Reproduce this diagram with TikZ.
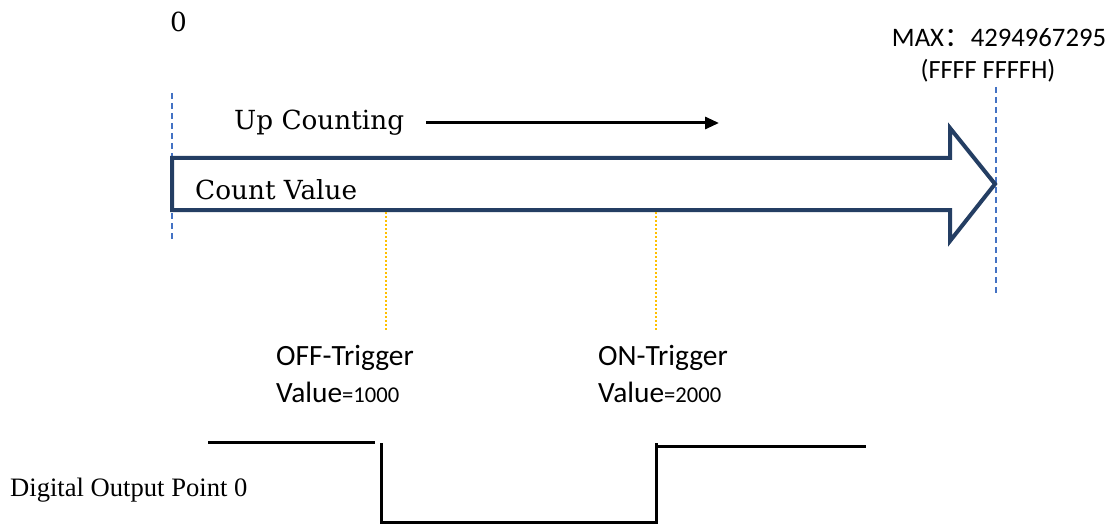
\documentclass[tikz,border=0pt]{standalone}
\usepackage{fontspec}
\newfontfamily\calfont{Carlito}
\newfontfamily\timesfont{Liberation Serif}
\newfontfamily\slabfont{DejaVu Serif}
\newfontfamily\cjk{Noto Sans CJK SC}
\usetikzlibrary{arrows.meta}
\definecolor{arrowblue}{RGB}{36,62,99}
\definecolor{markblue}{RGB}{68,114,196}
\definecolor{trigorange}{RGB}{255,192,0}

\begin{document}
\begin{tikzpicture}[x=1pt,y=-1pt,
  bluedash/.style={draw=markblue,line width=1.5pt,dash pattern=on 6pt off 4pt},
  orangedot/.style={draw=trigorange,line width=2pt,dash pattern=on 2pt off 2pt},
  signal/.style={draw=black,line width=3pt},
  big/.style={inner sep=0pt,anchor=west,font=\slabfont\fontsize{26.3}{30}\selectfont},
  lab/.style={inner sep=0pt,anchor=west,font=\calfont\fontsize{29.4}{33}\selectfont}]
\useasboundingbox (0,0) rectangle (1117,524);

% start and end of the count range
\coordinate (zerotop) at (172,93);
\coordinate (zerobot) at (172,240);
\coordinate (maxtop) at (996,87);
\coordinate (maxbot) at (996,293);
\draw[bluedash] (zerotop) -- (zerobot);
\draw[bluedash] (maxtop) -- (maxbot);
\node[big] (zero) at (170,22) {0};
\node[lab,anchor=center,font=\calfont\fontsize{26.7}{30}\selectfont] (maxval) at (999,38) {MAX{\cjk：}4294967295};
\node[lab,anchor=center,font=\calfont\fontsize{26.3}{30}\selectfont] (maxhex) at (988,71) {(FFFF FFFFH)};

% count value block arrow
\draw[draw=arrowblue,line width=4pt,line join=miter,fill=white]
  (172,158) -- (950,158) -- (950,128) -- (995,184) -- (950,241) -- (950,210) -- (172,210) -- cycle;
\node[big] (count) at (195,190) {Count Value};
\node[big] (upc) at (234,123) {Up Counting};
\coordinate (upend) at (719,123);
\draw[line width=3pt,-{Triangle[length=14pt,width=12pt]}] ([xshift=22pt]upc.east) -- (upend);

% trigger points
\coordinate (offtop) at (386,212);
\coordinate (offbot) at (386,330);
\coordinate (ontop) at (656,212);
\coordinate (onbot) at (656,330);
\draw[orangedot] (offtop) -- (offbot);
\draw[orangedot] (ontop) -- (onbot);
\node[lab] (offtrig) at (276,358) {OFF-Trigger};
\node[lab] (offval) at (276,392) {Value{\fontsize{22.6}{26}\selectfont=1000}};
\node[lab] (ontrig) at (598,358) {ON-Trigger};
\node[lab] (onval) at (598,392) {Value{\fontsize{22.6}{26}\selectfont=2000}};

% digital output
\node[inner sep=0pt,anchor=west,font=\timesfont\fontsize{26.6}{30}\selectfont] (dout) at (10,490) {Digital Output Point 0};
\draw[signal] (208,442) -- (375,442);
\draw[signal] (381,443) -- (381,522) -- (656,522) -- (656,443);
\draw[signal] (656,446) -- (866,446);
\end{tikzpicture}
\end{document}
